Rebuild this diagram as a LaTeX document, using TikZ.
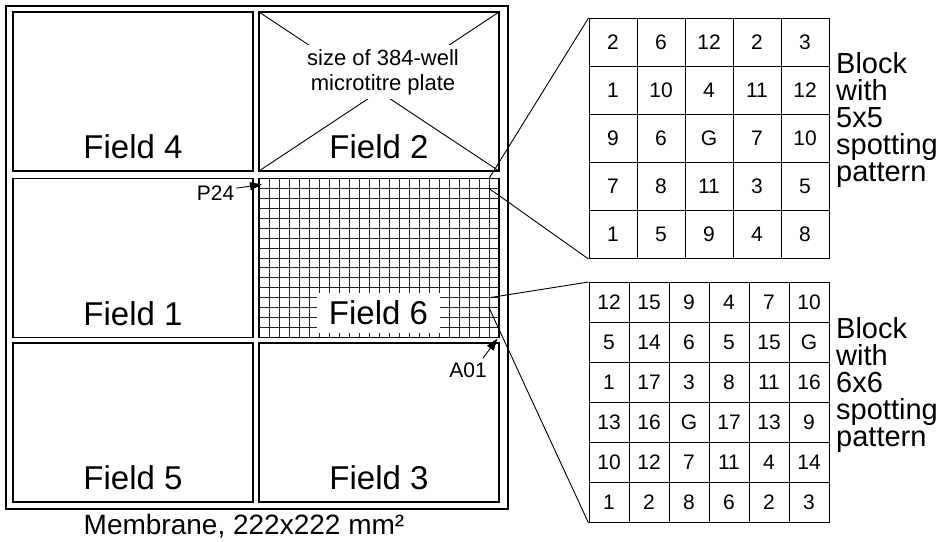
\documentclass[tikz,border=0pt]{standalone}
\usepackage{fontspec}
\setmainfont{Liberation Sans}
\usetikzlibrary{arrows.meta,matrix,calc}
\begin{document}
\begin{tikzpicture}[x=1pt,y=-1pt,
  fieldbox/.style={draw, line width=1.2pt, minimum width=240pt, minimum height=159pt, inner sep=0pt, outer sep=0pt},
  fieldlabel/.style={font=\fontsize{33}{36}\selectfont, anchor=base, inner sep=0pt},
  gridline/.style={line width=0.9pt, black!85},
  thinline/.style={line width=0.9pt},
  arr/.style={line width=0.9pt, -{Triangle[length=12pt,width=8pt]}},
  smalllabel/.style={font=\fontsize{21}{24}\selectfont, inner sep=0pt},
  blocktext/.style={font=\fontsize{29}{27}\selectfont, align=left, inner sep=0pt},
  blockcell/.style={draw, line width=1pt, inner sep=0pt, font=\fontsize{21}{24}\selectfont, anchor=center}
]
\useasboundingbox (0,0) rectangle (945,541);
% membrane
\node[draw, line width=1.2pt, minimum width=502pt, minimum height=503pt, inner sep=0pt] (mem) at (257,257.5) {};
% fields
\node[fieldbox] (f4) at (133,91.5) {};
\node[fieldbox] (f2) at (379,91.5) {};
\node[fieldbox] (f1) at (133,258) {};
\node[fieldbox] (f6) at (379,258) {};
\node[fieldbox] (f5) at (133,422.5) {};
\node[fieldbox] (f3) at (379,422.5) {};
% grid of field 6
\foreach \i in {1,...,23} \draw[gridline] (259+\i*10,178.5) -- (259+\i*10,337.5);
\foreach \j in {1,...,15} \draw[gridline] (259,178.5+\j*9.9375) -- (499,178.5+\j*9.9375);
% field labels
\node[fieldlabel] (l4) at ($(f4.south)+(0,-12.5)$) {Field 4};
\node[fieldlabel] (l2) at ($(f2.south)+(0,-12.5)$) {Field 2};
\node[fieldlabel] (l1) at ($(f1.south)+(0,-12.5)$) {Field 1};
\node[fieldlabel] (l5) at ($(f5.south)+(0,-12.5)$) {Field 5};
\node[fieldlabel] (l3) at ($(f3.south)+(0,-12.5)$) {Field 3};
\node[fieldlabel, fill=white, anchor=center, minimum width=123pt, minimum height=40pt] (l6) at (378.5,313) {Field 6};
% field 2 diagonals
\draw[thinline] (f2.north west) -- (f2.south east);
\draw[thinline] (f2.north east) -- (f2.south west);
\node[fill=white, align=center, font=\fontsize{22}{25}\selectfont, inner xsep=4pt, inner ysep=4.5pt] (plate) at (383,72) {size of 384-well\\microtitre plate};
% P24 and A01
\node[smalllabel, anchor=base east] (p24) at (234.5,200) {P24};
\coordinate (p24tip) at (262,184.5);
\draw[arr] ($(p24.north east)+(2,3)$) -- (p24tip);
\node[smalllabel, anchor=base east] (a01) at (487,377) {A01};
\coordinate (a01tip) at (497.5,338.5);
\draw[arr] ($(a01.north east)+(-4,-4)$) -- (a01tip);
% blocks
\matrix[matrix of nodes, column sep=-1pt, row sep=-1pt, nodes={blockcell, minimum size=48pt}] (b1) at (709,138.5) {
2 & 6 & 12 & 2 & 3\\
1 & 10 & 4 & 11 & 12\\
9 & 6 & G & 7 & 10\\
7 & 8 & 11 & 3 & 5\\
1 & 5 & 9 & 4 & 8\\
};
\matrix[matrix of nodes, column sep=-1pt, row sep=-1pt, nodes={blockcell, minimum size=40pt}] (b2) at (709,402.5) {
12 & 15 & 9 & 4 & 7 & 10\\
5 & 14 & 6 & 5 & 15 & G\\
1 & 17 & 3 & 8 & 11 & 16\\
13 & 16 & G & 17 & 13 & 9\\
10 & 12 & 7 & 11 & 4 & 14\\
1 & 2 & 8 & 6 & 2 & 3\\
};
% zoom connectors
\coordinate (z1a) at (489,178.5);
\coordinate (z1b) at (489,188.4375);
\coordinate (z2a) at (489,297.75);
\coordinate (z2b) at (489,307.6875);
\draw[thinline] (b1-1-1.north west) -- (z1a);
\draw[thinline] (b1-5-1.south west) -- (z1b);
\draw[thinline] (b2-1-1.north west) -- (z2a);
\draw[thinline] (b2-6-1.south west) -- (z2b);
% block captions
\node[blocktext, anchor=north west] (t1) at (836,52) {Block\\with\\5x5\\spotting\\pattern};
\node[blocktext, anchor=north west] (t2) at (836,317) {Block\\with\\6x6\\spotting\\pattern};
% membrane caption
\node[font=\fontsize{28}{30}\selectfont, anchor=base, inner sep=0pt] (cap) at (244,534) {Membrane, 222x222 mm²};
\end{tikzpicture}
\end{document}
